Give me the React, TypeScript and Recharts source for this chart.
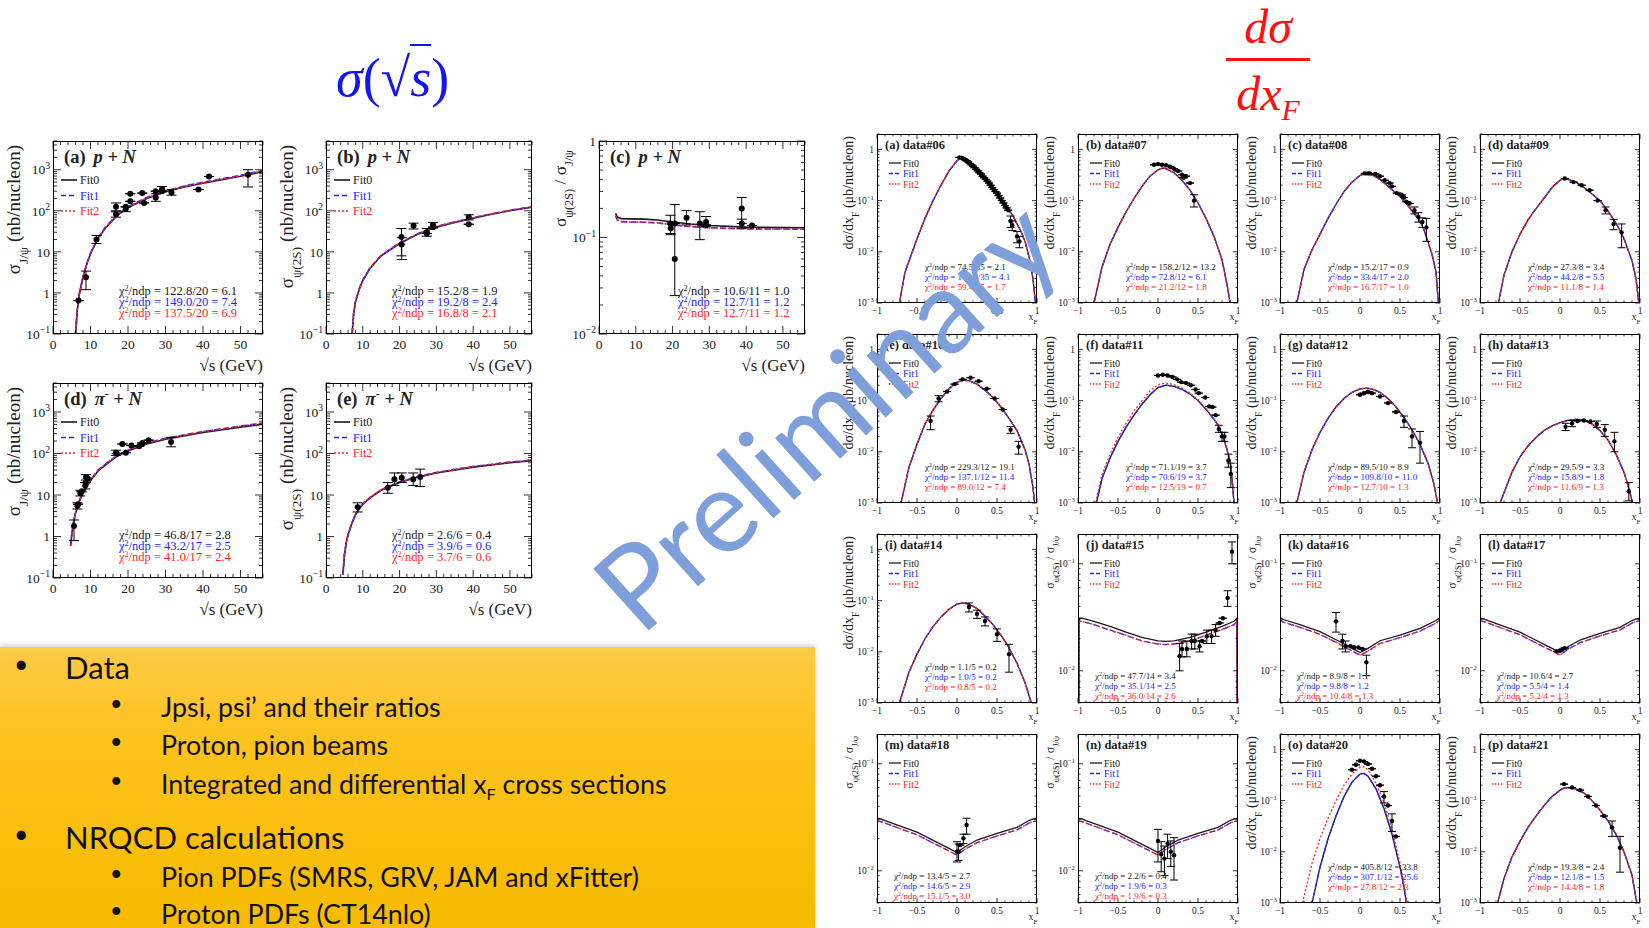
import React from "react";
import { ComposedChart, Line, Scatter, ErrorBar, XAxis, YAxis } from "recharts";

const SERIF = "'Liberation Serif', 'Times New Roman', serif";
const SANS = "Lato, 'Open Sans', sans-serif";
const FIT_COLORS = ["#1a1a1a", "#2424ff", "#ff2424"];
const FIT_DASH = [undefined, "6 3", "2 2"];

type Pair = number[];
type Pt = number[]; // x, y, optional lower and upper bound

// ---------- sigma(sqrt s) panels ----------
const A_FIT0: Pair[] = [[6.0,0.1],[6.5,0.4],[7,0.9],[8,2.4],[9,5],[10,9],[12,21],[14,38],[17,75],[20,120],[25,200],[30,290],[35,380],[40,470],[45,570],[50,690],[56,900]];
const A_FIT1: Pair[] = [[6.0,0.1],[6.5,0.42],[7,0.95],[8,2.5],[9,5.2],[10,9.4],[12,22],[14,40],[17,79],[20,126],[25,210],[30,305],[35,400],[40,495],[45,600],[50,730],[56,960]];
const A_FIT2: Pair[] = [[6.0,0.1],[6.5,0.41],[7,0.93],[8,2.45],[9,5.1],[10,9.2],[12,21.5],[14,39],[17,77],[20,123],[25,205],[30,300],[35,392],[40,485],[45,590],[50,715],[56,940]];
const A_PTS: Pt[] = [[6.8,0.65],[8.8,2.4,1.2,3.4],[11.6,20,16,25],[16.8,125,100,155],[16.8,82,70,95],[19.4,110,95,125],[19.4,125],[20.6,170],[20.6,260],[23.8,270],[24.3,155],[27.4,300],[27.4,210,170,260],[29.1,340,290,390],[29.1,300],[31.6,280,240,330],[38.8,330],[41.6,680],[52,750,380,1000]];

const B_FIT0: Pair[] = [[7.1,0.1],[7.5,0.3],[8,0.6],[9,1.2],[10,2.0],[12,4],[15,8],[20,16],[25,27],[30,40],[35,52],[40,66],[45,82],[50,100],[56,122]];
const B_FIT1: Pair[] = [[7.1,0.1],[7.5,0.31],[8,0.62],[9,1.24],[10,2.06],[12,4.1],[15,8.2],[20,16.5],[25,27.8],[30,41],[35,53.5],[40,68],[45,84],[50,103],[56,125]];
const B_PTS: Pt[] = [[20.5,23,8,37],[20.6,15,6.5,22],[23.8,43,36,50],[27.4,30,24,37],[27.4,28],[29.1,45,38,52],[29.1,40],[38.8,70,60,80],[38.8,47]];

const C_FIT0: Pair[] = [[4.5,0.178],[5,0.163],[6,0.157],[8,0.156],[12,0.155],[16,0.152],[20,0.145],[25,0.138],[30,0.133],[40,0.128],[56,0.126]];
const C_FIT1: Pair[] = [[4.5,0.168],[5,0.152],[6,0.146],[8,0.145],[12,0.144],[16,0.142],[20,0.135],[25,0.13],[30,0.126],[40,0.123],[56,0.122]];
const C_PTS: Pt[] = [[19.4,0.14,0.11,0.17],[19.5,0.125,0.107,0.145],[20.6,0.14],[20.6,0.06,0.025,0.22],[23.8,0.16,0.135,0.19],[27.4,0.14,0.095,0.185],[29.1,0.145,0.13,0.165],[29.1,0.135],[38.8,0.2,0.14,0.26],[38.8,0.14,0.125,0.155],[41.6,0.133]];

const D_FIT0: Pair[] = [[4.7,0.6],[5,1.1],[5.5,2.2],[6,3.6],[7,7],[8,11],[9,16],[10,22],[12,38],[15,62],[17,85],[20,115],[25,170],[30,220],[40,320],[50,430],[56,510]];
const D_FIT1: Pair[] = [[4.7,0.6],[5,1.15],[5.5,2.3],[6,3.8],[7,7.3],[8,11.5],[9,16.8],[10,23],[12,40],[15,65],[17,89],[20,120],[25,178],[30,232],[40,338],[50,455],[56,545]];
const D_PTS: Pt[] = [[5.6,1.8,0.8,2.5],[6.5,5.5,4.6,6.5],[6.7,6],[7.3,11,9.5,13],[7.6,12],[8.6,17,14,20],[8.7,20],[8.8,27,23,31],[9.3,25],[16.8,105,90,120],[17.0,100],[18.5,170],[19.4,105],[20.9,155],[23.0,150],[23.8,180],[25.5,210],[31.5,190,145,245]];

const E_FIT0: Pair[] = [[4.6,0.12],[5,0.35],[5.5,0.7],[6,1.1],[7,2.0],[8,3.3],[9,4.6],[10,6],[12,8.5],[15,13],[20,20],[25,27],[30,34],[40,47],[50,60],[56,67]];
const E_FIT1: Pair[] = [[4.6,0.12],[5,0.36],[5.5,0.72],[6,1.13],[7,2.06],[8,3.4],[9,4.75],[10,6.2],[12,8.8],[15,13.4],[20,20.6],[25,27.8],[30,35],[40,48.5],[50,62],[56,69]];
const E_PTS: Pt[] = [[8.6,5.1,3.9,6.5],[16.8,15,11,20],[18.6,24,17,34],[20.6,26,20,34],[23.7,24,17,34],[25.6,27,16,42]];

// ---------- dsigma/dxF panels ----------
const R06_FIT0: Pair[] = [[-0.74,0.0006],[-0.72,0.001],[-0.65,0.004],[-0.5,0.018],[-0.4,0.045],[-0.3,0.1],[-0.2,0.2],[-0.1,0.38],[0,0.6],[0.05,0.68],[0.1,0.65],[0.2,0.48],[0.3,0.33],[0.4,0.22],[0.5,0.14],[0.6,0.085],[0.7,0.05],[0.8,0.025],[0.85,0.016],[0.9,0.008],[0.95,0.003],[0.98,0.001],[1,0.0002]];
const R06_PTS: Pt[] = [[0.03,0.7],[0.06,0.68],[0.08,0.66],[0.1,0.63],[0.12,0.6],[0.14,0.57],[0.16,0.53],[0.18,0.5],[0.2,0.47],[0.22,0.44],[0.24,0.41],[0.26,0.38],[0.28,0.35],[0.3,0.33],[0.32,0.3],[0.34,0.28],[0.36,0.26],[0.38,0.24],[0.4,0.22],[0.42,0.2],[0.44,0.18],[0.46,0.165],[0.48,0.15],[0.5,0.14],[0.52,0.125],[0.54,0.112],[0.56,0.1],[0.58,0.09],[0.6,0.08],[0.62,0.072],[0.64,0.065],[0.67,0.04,0.03,0.05],[0.69,0.033,0.026,0.04],[0.75,0.02,0.015,0.025],[0.78,0.016,0.012,0.02]];

const R07_FIT0: Pair[] = [[-0.83,0.0005],[-0.8,0.001],[-0.7,0.005],[-0.6,0.014],[-0.5,0.03],[-0.4,0.06],[-0.3,0.11],[-0.2,0.19],[-0.1,0.3],[0,0.4],[0.05,0.43],[0.1,0.42],[0.2,0.35],[0.3,0.25],[0.4,0.16],[0.5,0.09],[0.6,0.045],[0.7,0.02],[0.8,0.007],[0.87,0.002],[0.9,0.001],[0.93,0.0002]];
const R07_PTS: Pt[] = [[-0.05,0.5],[0,0.52],[0.05,0.5],[0.1,0.49],[0.15,0.46],[0.2,0.42],[0.25,0.38],[0.3,0.32],[0.32,0.28],[0.35,0.3],[0.4,0.22],[0.45,0.1,0.075,0.13]];

const R08_FIT0: Pair[] = [[-0.8,0.0006],[-0.79,0.001],[-0.7,0.0045],[-0.6,0.011],[-0.5,0.022],[-0.4,0.045],[-0.3,0.085],[-0.2,0.15],[-0.1,0.23],[0,0.31],[0.07,0.34],[0.15,0.32],[0.25,0.26],[0.35,0.19],[0.5,0.12],[0.6,0.08],[0.7,0.05],[0.75,0.04],[0.8,0.027],[0.9,0.009],[0.95,0.004],[0.98,0.001],[1,0.0003]];
const R08_PTS: Pt[] = [[0.06,0.34],[0.1,0.34],[0.125,0.34],[0.19,0.33],[0.25,0.3],[0.31,0.25],[0.37,0.22],[0.4,0.19],[0.46,0.14],[0.52,0.13],[0.55,0.115],[0.58,0.095],[0.62,0.088],[0.68,0.065,0.055,0.075],[0.73,0.048,0.038,0.058],[0.78,0.038,0.03,0.046],[0.83,0.03,0.016,0.045]];

const R09_FIT0: Pair[] = [[-0.79,0.0006],[-0.77,0.001],[-0.7,0.0035],[-0.6,0.01],[-0.5,0.022],[-0.4,0.042],[-0.3,0.07],[-0.25,0.087],[-0.1,0.18],[0,0.25],[0.05,0.27],[0.1,0.26],[0.2,0.23],[0.3,0.18],[0.4,0.135],[0.5,0.1],[0.6,0.063],[0.7,0.036],[0.75,0.026],[0.8,0.018],[0.9,0.0067],[0.95,0.003],[0.985,0.001],[1,0.0004]];
const R09_PTS: Pt[] = [[0.06,0.27],[0.17,0.23],[0.27,0.2],[0.37,0.16],[0.47,0.1],[0.57,0.065,0.055,0.075],[0.67,0.035,0.027,0.043],[0.77,0.024,0.012,0.035]];

const R10_FIT0: Pair[] = [[-0.72,0.0006],[-0.7,0.001],[-0.6,0.005],[-0.5,0.014],[-0.4,0.035],[-0.3,0.065],[-0.2,0.11],[-0.1,0.17],[0,0.23],[0.08,0.25],[0.15,0.245],[0.25,0.21],[0.35,0.16],[0.45,0.115],[0.55,0.075],[0.65,0.045],[0.75,0.026],[0.85,0.011],[0.9,0.0058],[0.95,0.002],[0.97,0.001],[0.99,0.0003]];
const R10_PTS: Pt[] = [[-0.33,0.04,0.027,0.05],[-0.23,0.11,0.095,0.125],[-0.125,0.15],[-0.03,0.21],[0.07,0.26],[0.17,0.28],[0.27,0.24],[0.37,0.17],[0.47,0.11],[0.57,0.067],[0.67,0.027,0.023,0.031],[0.77,0.0126,0.009,0.016]];

const R11_FIT0: Pair[] = [[-0.79,0.0006],[-0.77,0.001],[-0.7,0.003],[-0.6,0.0075],[-0.5,0.016],[-0.4,0.03],[-0.3,0.052],[-0.2,0.085],[-0.1,0.13],[0,0.18],[0.1,0.2],[0.2,0.19],[0.3,0.165],[0.4,0.135],[0.5,0.1],[0.6,0.068],[0.7,0.043],[0.75,0.033],[0.8,0.022],[0.85,0.013],[0.9,0.0067],[0.93,0.0025],[0.95,0.001],[0.97,0.0003]];
const R11_FIT2: Pair[] = [[-0.8,0.0006],[-0.78,0.001],[-0.7,0.0036],[-0.6,0.009],[-0.5,0.019],[-0.4,0.036],[-0.3,0.063],[-0.2,0.1],[-0.1,0.155],[0,0.205],[0.1,0.22],[0.2,0.205],[0.3,0.175],[0.4,0.14],[0.5,0.105],[0.6,0.07],[0.7,0.044],[0.75,0.034],[0.8,0.023],[0.85,0.013],[0.9,0.0067],[0.93,0.0025],[0.95,0.001],[0.97,0.0003]];
const R11_PTS: Pt[] = [[0.0,0.31],[0.06,0.32],[0.12,0.31],[0.18,0.29],[0.24,0.26],[0.29,0.23],[0.35,0.22],[0.41,0.2],[0.47,0.165],[0.51,0.14],[0.59,0.115],[0.64,0.077],[0.68,0.075],[0.72,0.052],[0.76,0.028,0.024,0.033],[0.8,0.02,0.016,0.024],[0.83,0.02,0.016,0.024],[0.88,0.0068,0.005,0.009],[0.91,0.0037,0.002,0.006]];

const R12_FIT0: Pair[] = [[-0.81,0.0006],[-0.79,0.001],[-0.7,0.004],[-0.6,0.011],[-0.5,0.024],[-0.4,0.045],[-0.3,0.075],[-0.2,0.11],[-0.1,0.145],[0,0.17],[0.08,0.175],[0.15,0.17],[0.25,0.145],[0.35,0.11],[0.45,0.075],[0.55,0.047],[0.65,0.027],[0.75,0.014],[0.85,0.006],[0.92,0.0025],[0.97,0.001],[0.99,0.0003]];
const R12_PTS: Pt[] = [[0,0.13],[0.05,0.14],[0.1,0.15],[0.15,0.14],[0.25,0.12],[0.35,0.09],[0.45,0.06],[0.55,0.04,0.03,0.05],[0.65,0.02,0.012,0.028],[0.75,0.015,0.006,0.025]];

const R13_FIT0: Pair[] = [[-0.77,0.0006],[-0.75,0.001],[-0.6,0.004],[-0.5,0.008],[-0.4,0.013],[-0.3,0.019],[-0.2,0.026],[-0.1,0.032],[0,0.037],[0.1,0.041],[0.2,0.043],[0.3,0.041],[0.4,0.035],[0.5,0.026],[0.6,0.017],[0.7,0.009],[0.8,0.004],[0.88,0.0015],[0.92,0.0008],[0.95,0.0003]];
const R13_PTS: Pt[] = [[0.07,0.031,0.026,0.036],[0.15,0.036,0.031,0.041],[0.22,0.04],[0.3,0.041],[0.38,0.039],[0.46,0.035,0.03,0.04],[0.56,0.027,0.02,0.034],[0.68,0.016,0.01,0.024],[0.86,0.0017,0.0011,0.0025]];

const R14_FIT0: Pair[] = [[-0.74,0.0006],[-0.72,0.001],[-0.6,0.004],[-0.5,0.009],[-0.4,0.018],[-0.3,0.031],[-0.2,0.048],[-0.1,0.068],[0,0.085],[0.07,0.09],[0.15,0.085],[0.25,0.07],[0.35,0.05],[0.45,0.034],[0.55,0.021],[0.65,0.012],[0.75,0.006],[0.85,0.0025],[0.93,0.001],[0.97,0.0004]];
const R14_PTS: Pt[] = [[0.15,0.075,0.06,0.09],[0.25,0.055,0.045,0.065],[0.35,0.04,0.032,0.048],[0.5,0.022,0.016,0.028],[0.65,0.009,0.004,0.014]];

// ---------- psi(2S)/J/psi ratio panels ----------
const R15_FIT0: Pair[] = [[-0.99,0.001],[-0.985,0.031],[-0.95,0.031],[-0.8,0.029],[-0.6,0.026],[-0.4,0.023],[-0.2,0.0205],[0,0.019],[0.1,0.0188],[0.2,0.019],[0.4,0.0205],[0.6,0.023],[0.8,0.026],[0.95,0.029],[0.985,0.031],[0.99,0.001]];
const R15_FIT1: Pair[] = [[-0.99,0.001],[-0.985,0.029],[-0.95,0.029],[-0.8,0.027],[-0.6,0.024],[-0.4,0.0215],[-0.2,0.019],[0,0.0178],[0.1,0.0176],[0.2,0.0178],[0.4,0.019],[0.6,0.0215],[0.8,0.0243],[0.95,0.027],[0.985,0.029],[0.99,0.001]];
const R15_PTS: Pt[] = [[0.27,0.0137,0.01,0.018],[0.3,0.016,0.0135,0.019],[0.36,0.016,0.0135,0.019],[0.42,0.019,0.016,0.022],[0.46,0.019,0.016,0.022],[0.52,0.017,0.015,0.019],[0.55,0.019],[0.61,0.021,0.018,0.024],[0.67,0.021,0.018,0.024],[0.72,0.024,0.021,0.027],[0.77,0.028],[0.81,0.031],[0.87,0.048,0.04,0.056],[0.925,0.13,0.1,0.16]];

const R16_FIT0: Pair[] = [[-1,0.0314],[-0.95,0.03],[-0.75,0.027],[-0.5,0.0232],[-0.25,0.0187],[-0.1,0.0162],[0,0.0148],[0.1,0.0162],[0.25,0.0191],[0.5,0.0216],[0.75,0.0249],[0.95,0.0295],[1,0.0314]];
const R16_FIT1: Pair[] = [[-1,0.0297],[-0.95,0.0284],[-0.75,0.0255],[-0.5,0.0219],[-0.25,0.0177],[-0.1,0.0153],[0,0.014],[0.1,0.0153],[0.25,0.018],[0.5,0.0204],[0.75,0.0235],[0.95,0.0279],[1,0.0297]];
const R16_PTS: Pt[] = [[-0.3,0.029,0.023,0.035],[-0.22,0.019,0.016,0.022],[-0.18,0.017,0.015,0.019],[-0.12,0.017],[-0.07,0.0165],[-0.02,0.0165],[0.03,0.016],[0.08,0.012,0.009,0.014]];

const V_FIT0: Pair[] = [[-1,0.031],[-0.95,0.0305],[-0.9,0.0295],[-0.5,0.023],[-0.1,0.0162],[0,0.0148],[0.1,0.0168],[0.25,0.0194],[0.5,0.0224],[0.75,0.0255],[0.9,0.0295],[0.95,0.0305],[1,0.031]];
const V_FIT1: Pair[] = [[-1,0.0293],[-0.95,0.0288],[-0.9,0.0279],[-0.5,0.0217],[-0.1,0.0153],[0,0.014],[0.1,0.0159],[0.25,0.0183],[0.5,0.0212],[0.75,0.0241],[0.9,0.0279],[0.95,0.0288],[1,0.0293]];
const R17_PTS: Pt[] = [[-0.04,0.0152],[0.0,0.0155],[0.03,0.0158],[0.06,0.0163]];
const R18_PTS: Pt[] = [[0,0.0151,0.0121,0.0187],[0.02,0.0151,0.0125,0.0178],[0.04,0.0174],[0.08,0.0201,0.018,0.022],[0.12,0.0268,0.022,0.031]];
const R19_PTS: Pt[] = [[0,0.019,0.0121,0.0244],[0.04,0.0143,0.0098,0.0187],[0.08,0.013,0.009,0.017],[0.12,0.018,0.013,0.022],[0.16,0.0151,0.011,0.019],[0.2,0.014,0.0082,0.0204]];

const R20_FIT0: Pair[] = [[-0.62,0.0006],[-0.6,0.001],[-0.5,0.005],[-0.4,0.018],[-0.3,0.05],[-0.2,0.12],[-0.1,0.23],[0,0.33],[0.05,0.34],[0.1,0.3],[0.2,0.17],[0.3,0.07],[0.4,0.022],[0.5,0.005],[0.55,0.002],[0.6,0.0006]];
const R20_FIT2: Pair[] = [[-0.76,0.0006],[-0.72,0.001],[-0.6,0.006],[-0.5,0.018],[-0.4,0.045],[-0.3,0.1],[-0.2,0.2],[-0.1,0.33],[0,0.45],[0.05,0.46],[0.1,0.4],[0.2,0.22],[0.3,0.09],[0.4,0.028],[0.5,0.006],[0.55,0.0025],[0.6,0.0007]];
const R20_PTS: Pt[] = [[-0.1,0.4],[-0.05,0.5],[0,0.6],[0.05,0.58],[0.1,0.52],[0.15,0.42],[0.2,0.3],[0.25,0.2],[0.3,0.12,0.09,0.15],[0.35,0.08],[0.4,0.04,0.025,0.055],[0.45,0.02]];

const R21_FIT0: Pair[] = [[-0.8,0.0006],[-0.78,0.001],[-0.7,0.003],[-0.6,0.008],[-0.5,0.016],[-0.4,0.03],[-0.3,0.05],[-0.2,0.08],[-0.1,0.12],[0,0.16],[0.05,0.175],[0.1,0.18],[0.2,0.17],[0.3,0.14],[0.4,0.1],[0.5,0.065],[0.6,0.04],[0.7,0.022],[0.8,0.01],[0.9,0.0035],[0.96,0.001],[0.98,0.0003]];
const R21_PTS: Pt[] = [[0.05,0.21],[0.15,0.18],[0.25,0.16],[0.35,0.12],[0.45,0.08],[0.55,0.05],[0.65,0.03,0.02,0.04],[0.75,0.012,0.004,0.02]];

const CHI: Record<string, string[]> = {
  a: ["122.8/20 = 6.1", "149.0/20 = 7.4", "137.5/20 = 6.9"],
  b: ["15.2/8 = 1.9", "19.2/8 = 2.4", "16.8/8 = 2.1"],
  c: ["10.6/11 = 1.0", "12.7/11 = 1.2", "12.7/11 = 1.2"],
  d: ["46.8/17 = 2.8", "43.2/17 = 2.5", "41.0/17 = 2.4"],
  e: ["2.6/6 = 0.4", "3.9/6 = 0.6", "3.7/6 = 0.6"],
  "06": ["74.5/35 = 2.1", "141.8/35 = 4.1", "59.4/35 = 1.7"],
  "07": ["158.2/12 = 13.2", "72.8/12 = 6.1", "21.2/12 = 1.8"],
  "08": ["15.2/17 = 0.9", "33.4/17 = 2.0", "16.7/17 = 1.0"],
  "09": ["27.3/8 = 3.4", "44.2/8 = 5.5", "11.1/8 = 1.4"],
  "10": ["229.3/12 = 19.1", "137.1/12 = 11.4", "89.0/12 = 7.4"],
  "11": ["71.1/19 = 3.7", "70.6/19 = 3.7", "12.5/19 = 0.7"],
  "12": ["89.5/10 = 8.9", "109.8/10 = 11.0", "12.7/10 = 1.3"],
  "13": ["29.5/9 = 3.3", "15.8/9 = 1.8", "11.6/9 = 1.3"],
  "14": ["1.1/5 = 0.2", "1.0/5 = 0.2", "0.8/5 = 0.2"],
  "15": ["47.7/14 = 3.4", "35.1/14 = 2.5", "36.0/14 = 2.6"],
  "16": ["8.9/8 = 1.1", "9.8/8 = 1.2", "10.4/8 = 1.3"],
  "17": ["10.6/4 = 2.7", "5.5/4 = 1.4", "5.2/4 = 1.3"],
  "18": ["13.4/5 = 2.7", "14.6/5 = 2.9", "15.1/5 = 3.0"],
  "19": ["2.2/6 = 0.4", "1.9/6 = 0.3", "1.9/6 = 0.3"],
  "20": ["405.8/12 = 33.8", "307.1/12 = 25.6", "27.8/12 = 2.3"],
  "21": ["19.3/8 = 2.4", "12.1/8 = 1.5", "14.4/8 = 1.8"],
};

type YKind = "jpsi" | "psi2s" | "ratio" | "dxf";
interface Spec {
  key: string;
  letter: string;
  head: string;
  L: number; T: number; W: number; H: number;
  wide: boolean;
  yKind: YKind;
  yDomain: number[];
  fits: Pair[][];
  pts: Pt[];
}

const RTS_DOMAIN = [0, 56];
const XS_DOMAIN = [0.001, 2];
const RATIO_DOMAIN = [0.005, 0.19];

const LEFT: Spec[] = [
  { key: "a", letter: "(a)", head: "p", L: 53, T: 141, W: 210, H: 193, wide: true, yKind: "jpsi", yDomain: [0.1, 5000], fits: [A_FIT0, A_FIT1, A_FIT2], pts: A_PTS },
  { key: "b", letter: "(b)", head: "p", L: 326, T: 141, W: 206, H: 193, wide: true, yKind: "psi2s", yDomain: [0.1, 5000], fits: [B_FIT0, B_FIT1, B_FIT1], pts: B_PTS },
  { key: "c", letter: "(c)", head: "p", L: 599, T: 141, W: 206, H: 193, wide: true, yKind: "ratio", yDomain: [0.01, 1], fits: [C_FIT0, C_FIT1, C_FIT1], pts: C_PTS },
  { key: "d", letter: "(d)", head: "pi", L: 53, T: 383, W: 210, H: 195, wide: true, yKind: "jpsi", yDomain: [0.1, 5000], fits: [D_FIT0, D_FIT1, D_FIT1], pts: D_PTS },
  { key: "e", letter: "(e)", head: "pi", L: 326, T: 383, W: 206, H: 195, wide: true, yKind: "psi2s", yDomain: [0.1, 5000], fits: [E_FIT0, E_FIT1, E_FIT1], pts: E_PTS },
];

const COLS = [877, 1078, 1280, 1480];
const ROWS = [134, 334, 534, 734];
const rp = (i: number, key: string, letter: string, ratio: boolean, fits: Pair[][], pts: Pt[]): Spec => ({
  key, letter, head: "data#" + key, L: COLS[i % 4], T: ROWS[Math.floor(i / 4)], W: 160, H: 169, wide: false,
  yKind: ratio ? "ratio" : "dxf", yDomain: ratio ? RATIO_DOMAIN : XS_DOMAIN, fits, pts,
});

const RIGHT: Spec[] = [
  rp(0, "06", "(a)", false, [R06_FIT0, R06_FIT0, R06_FIT0], R06_PTS),
  rp(1, "07", "(b)", false, [R07_FIT0, R07_FIT0, R07_FIT0], R07_PTS),
  rp(2, "08", "(c)", false, [R08_FIT0, R08_FIT0, R08_FIT0], R08_PTS),
  rp(3, "09", "(d)", false, [R09_FIT0, R09_FIT0, R09_FIT0], R09_PTS),
  rp(4, "10", "(e)", false, [R10_FIT0, R10_FIT0, R10_FIT0], R10_PTS),
  rp(5, "11", "(f)", false, [R11_FIT0, R11_FIT0, R11_FIT2], R11_PTS),
  rp(6, "12", "(g)", false, [R12_FIT0, R12_FIT0, R12_FIT0], R12_PTS),
  rp(7, "13", "(h)", false, [R13_FIT0, R13_FIT0, R13_FIT0], R13_PTS),
  rp(8, "14", "(i)", false, [R14_FIT0, R14_FIT0, R14_FIT0], R14_PTS),
  rp(9, "15", "(j)", true, [R15_FIT0, R15_FIT1, R15_FIT1], R15_PTS),
  rp(10, "16", "(k)", true, [R16_FIT0, R16_FIT1, R16_FIT1], R16_PTS),
  rp(11, "17", "(l)", true, [V_FIT0, V_FIT1, V_FIT1], R17_PTS),
  rp(12, "18", "(m)", true, [V_FIT0, V_FIT1, V_FIT1], R18_PTS),
  rp(13, "19", "(n)", true, [V_FIT0, V_FIT1, V_FIT1], R19_PTS),
  rp(14, "20", "(o)", false, [R20_FIT0, R20_FIT0, R20_FIT2], R20_PTS),
  rp(15, "21", "(p)", false, [R21_FIT0, R21_FIT0, R21_FIT0], R21_PTS),
];

// log ticks: decades are major, 2..9 are minor
function logTicks(dom: number[]) {
  const out: number[] = [];
  const e0 = Math.floor(Math.log10(dom[0]));
  const e1 = Math.ceil(Math.log10(dom[1]));
  for (let e = e0; e <= e1; e++) {
    for (let m = 1; m <= 9; m++) {
      const v = Number((m * Math.pow(10, e)).toPrecision(6));
      if (v >= dom[0] * 0.999 && v <= dom[1] * 1.001) out.push(v);
    }
  }
  return out;
}
const isDecade = (v: number) => Math.abs(Math.log10(v) - Math.round(Math.log10(v))) < 1e-6;

const RTS_TICKS = Array.from({ length: 29 }, (_, i) => i * 2);
const XF_TICKS = Array.from({ length: 21 }, (_, i) => Number((-1 + i * 0.1).toFixed(1)));

function DecadeLabel({ x, y, v, fs }: { x: number; y: number; v: number; fs: number }) {
  const e = Math.round(Math.log10(v));
  const common = { x, y: y + fs * 0.35, textAnchor: "end" as const, fontSize: fs, fontFamily: SERIF, fill: "#222" };
  if (e === 0) return <text {...common}>1</text>;
  if (e === 1) return <text {...common}>10</text>;
  return (
    <text {...common}>
      10<tspan dy={-fs * 0.42} fontSize={fs * 0.72}>{e < 0 ? "\u2212" + -e : String(e)}</tspan>
    </text>
  );
}

function Panel({ s }: { s: Spec }) {
  const LW = s.wide ? 50 : 34;
  const TM = 4;
  const RM = 4;
  const XH = s.wide ? 24 : 18;
  const x0 = LW, x1 = LW + s.W, y0 = TM, y1 = TM + s.H;
  const fs = s.wide ? 13.5 : 9.5;
  const big = s.wide ? 8 : 5;
  const yTicks = logTicks(s.yDomain);
  const xTicks = s.wide ? RTS_TICKS : XF_TICKS;
  const xDomain = s.wide ? RTS_DOMAIN : [-1, 1];

  const YTick = (t: any) => {
    const v = t.payload.value;
    const y = t.y;
    const major = isDecade(v);
    const len = major ? big : big / 2;
    return (
      <g>
        <line x1={x0} x2={x0 + len} y1={y} y2={y} stroke="#000" strokeWidth={0.8} />
        <line x1={x1} x2={x1 - len} y1={y} y2={y} stroke="#000" strokeWidth={0.8} />
        {major && <DecadeLabel x={x0 - 3} y={y} v={v} fs={fs} />}
      </g>
    );
  };
  const XTick = (t: any) => {
    const v = t.payload.value;
    const x = t.x;
    const major = s.wide ? v % 10 === 0 : Math.abs(v * 2 - Math.round(v * 2)) < 1e-6;
    const len = major ? big : big / 2;
    const label = v < 0 ? "\u2212" + String(-v) : String(v);
    return (
      <g>
        <line x1={x} x2={x} y1={y1} y2={y1 - len} stroke="#000" strokeWidth={0.8} />
        <line x1={x} x2={x} y1={y0} y2={y0 + len} stroke="#000" strokeWidth={0.8} />
        {major && (
          <text x={x} y={y1 + (s.wide ? 15 : 11)} textAnchor="middle" fontSize={fs} fontFamily={SERIF} fill="#222">
            {label}
          </text>
        )}
      </g>
    );
  };

  const pts = s.pts.map((p) => ({
    x: p[0],
    y: p[1],
    err: p.length > 2 ? [p[1] - p[2], p[3] - p[1]] : [0, 0],
  }));
  const r = s.wide ? 3 : 2.2;

  return (
    <div style={{ position: "absolute", left: s.L - LW, top: s.T - TM }}>
      <ComposedChart width={LW + s.W + RM} height={TM + s.H + XH} margin={{ top: TM, right: RM, bottom: 0, left: 0 }}>
        <XAxis dataKey="x" type="number" domain={xDomain} ticks={xTicks} interval={0} tick={XTick}
          tickLine={false} axisLine={false} tickSize={0} height={XH} allowDataOverflow />
        <YAxis dataKey="y" type="number" scale="log" domain={s.yDomain} ticks={yTicks} interval={0} tick={YTick}
          tickLine={false} axisLine={false} tickSize={0} width={LW} allowDataOverflow />
        {s.fits.map((f, i) => (
          <Line key={i} data={f.map((q) => ({ x: q[0], y: q[1] }))} dataKey="y" type="linear" dot={false}
            activeDot={false} stroke={FIT_COLORS[i]} strokeWidth={s.wide ? 1.6 : 1.3}
            strokeDasharray={FIT_DASH[i]} isAnimationActive={false} />
        ))}
        <Scatter data={pts} dataKey="y" isAnimationActive={false}
          shape={(p: any) => <circle cx={p.cx} cy={p.cy} r={r} fill="#000" />}>
          <ErrorBar dataKey="err" direction="y" width={s.wide ? 5 : 4} stroke="#000" strokeWidth={1} />
        </Scatter>
      </ComposedChart>
      <div style={{ position: "absolute", left: LW, top: TM, width: s.W, height: s.H, border: "1px solid #000", boxSizing: "border-box", pointerEvents: "none" }} />
    </div>
  );
}

function Sub({ children, fs }: { children: React.ReactNode; fs: number }) {
  return <tspan baselineShift="sub" fontSize={fs * 0.7}>{children}</tspan>;
}

function YLabel({ kind, x, y, fs }: { kind: YKind; x: number; y: number; fs: number }) {
  let body: React.ReactNode;
  if (kind === "jpsi") body = <>σ<Sub fs={fs}>J/ψ</Sub> (nb/nucleon)</>;
  else if (kind === "psi2s") body = <>σ<Sub fs={fs}>ψ(2S)</Sub> (nb/nucleon)</>;
  else if (kind === "ratio") body = <>σ<Sub fs={fs}>ψ(2S)</Sub> / σ<Sub fs={fs}>J/ψ</Sub></>;
  else body = <>dσ/dx<Sub fs={fs}>F</Sub> (μb/nucleon)</>;
  return (
    <text transform={`translate(${x},${y}) rotate(-90)`} textAnchor="end" fontSize={fs} fontFamily={SERIF} fill="#222">
      {body}
    </text>
  );
}

function Annot({ s }: { s: Spec }) {
  const { L, T, W, H } = s;
  const R = L + W, B = T + H;
  const chi = CHI[s.key];
  if (s.wide) {
    const rowY = [T + 39, T + 54.5, T + 70];
    const cx = s.key === "c" ? L + 79 : L + 66;
    const isRatio = s.yKind === "ratio";
    const yfs = isRatio ? 17.5 : 19;
    return (
      <g fontFamily={SERIF}>
        <text x={L + 11} y={T + 22} fontSize={18.5} fontWeight="bold" fill="#222">
          {s.letter}
          <tspan dx={8} fontStyle="italic">{s.head === "p" ? "p" : "π"}</tspan>
          {s.head === "pi" && <tspan baselineShift="super" fontSize={12}>-</tspan>}
          <tspan fontStyle="italic">{"  +  N"}</tspan>
        </text>
        {s.key !== "c" && ["Fit0", "Fit1", "Fit2"].map((n, i) => (
          <g key={n}>
            <line x1={L + 8} x2={L + 24} y1={rowY[i]} y2={rowY[i]} stroke={FIT_COLORS[i]} strokeWidth={1.6} strokeDasharray={i === 1 ? "5 3" : i === 2 ? "2 2" : undefined} />
            <text x={L + 27} y={rowY[i] + 4} fontSize={12} fill={FIT_COLORS[i]}>{n}</text>
          </g>
        ))}
        {chi.map((c, i) => (
          <text key={i} x={cx} y={B - 39 + i * 10.8} fontSize={12.5} fill={FIT_COLORS[i]}>
            χ<tspan baselineShift="super" fontSize={8}>2</tspan>/ndp = {c}
          </text>
        ))}
        <text x={R} y={B + 37} textAnchor="end" fontSize={17} fill="#222">√s (GeV)</text>
        <YLabel kind={s.yKind} x={L - 33} y={T + (isRatio ? 9 : 4)} fs={yfs} />
      </g>
    );
  }
  const rowY = [T + 29, T + 39.5, T + 50];
  const ratio = s.yKind === "ratio";
  const cx = ratio ? L + 17 : L + 48;
  const cy = ratio ? T + 145 : T + 136;
  return (
    <g fontFamily={SERIF}>
      <text x={L + 8} y={T + 15} fontSize={12.5} fontWeight="bold" fill="#222">{s.letter} {s.head}</text>
      {["Fit0", "Fit1", "Fit2"].map((n, i) => (
        <g key={n}>
          <line x1={L + 12} x2={L + 24} y1={rowY[i]} y2={rowY[i]} stroke={FIT_COLORS[i]} strokeWidth={1.3} strokeDasharray={i === 1 ? "4 2" : i === 2 ? "1.5 1.5" : undefined} />
          <text x={L + 26} y={rowY[i] + 3.5} fontSize={10} fill={FIT_COLORS[i]}>{n}</text>
        </g>
      ))}
      {chi.map((c, i) => (
        <text key={i} x={cx} y={cy + i * 10} fontSize={9} fill={FIT_COLORS[i]}>
          χ<tspan baselineShift="super" fontSize={6}>2</tspan>/ndp = {c}
        </text>
      ))}
      <text x={R - 4} y={B + 17} textAnchor="middle" fontSize={10} fill="#222">
        x<Sub fs={10}>F</Sub>
      </text>
      <YLabel kind={s.yKind} x={L - 24} y={T + 2} fs={ratio ? 12 : 14} />
    </g>
  );
}

const BULLETS = [
  { text: "Data", level: 0, y: 668 },
  { text: "Jpsi, psi\u2019 and their ratios", level: 1, y: 708 },
  { text: "Proton, pion beams", level: 1, y: 746 },
  { text: "Integrated and differential x", sub: "F", tail: " cross sections", level: 1, y: 785 },
  { text: "NRQCD calculations", level: 0, y: 838 },
  { text: "Pion PDFs (SMRS, GRV, JAM and xFitter)", level: 1, y: 878 },
  { text: "Proton PDFs (CT14nlo)", level: 1, y: 915 },
];

export default function App() {
  return (
    <div style={{ position: "absolute", left: 0, top: 0, width: 1649, height: 928, background: "#fff", overflow: "hidden", fontFamily: SERIF }}>
      {LEFT.map((s) => <Panel key={s.key} s={s} />)}
      {RIGHT.map((s) => <Panel key={s.key} s={s} />)}
      <svg width={1649} height={928} style={{ position: "absolute", left: 0, top: 0, pointerEvents: "none" }}>
        {LEFT.map((s) => <Annot key={s.key} s={s} />)}
        {RIGHT.map((s) => <Annot key={s.key} s={s} />)}
      </svg>

      {/* section titles */}
      <div style={{ position: "absolute", left: 336, top: 48, fontSize: 54, lineHeight: "60px", color: "#1414f0", fontFamily: SERIF, whiteSpace: "nowrap" }}>
        <i>σ</i>(√<i style={{ borderTop: "2px solid #1414f0", paddingTop: 2 }}>s</i>)
      </div>
      <div style={{ position: "absolute", left: 1222, top: 0, width: 92, color: "#ff1010", fontFamily: SERIF, fontStyle: "italic", fontSize: 48, textAlign: "center", lineHeight: "54px" }}>
        <div>dσ</div>
        <div style={{ height: 3, background: "#ff1010", margin: "4px 4px 6px" }} />
        <div>dx<sub style={{ fontSize: 30, verticalAlign: -10 }}>F</sub></div>
      </div>

      {/* summary box */}
      <div style={{ position: "absolute", left: 0, top: 647, width: 815, height: 281, background: "linear-gradient(to bottom, #ffca45 0%, #fdc21c 35%, #f7bb00 100%)", boxShadow: "0 -2px 5px rgba(0,0,0,0.18)" }}>
        {BULLETS.map((b, i) => {
          const fs = b.level === 0 ? 31 : 26.8;
          const bx = b.level === 0 ? 14 : 110;
          const tx = b.level === 0 ? 65 : 161;
          const top = b.y - 647 - fs * 0.62;
          return (
            <div key={i} style={{ position: "absolute", left: 0, top, fontFamily: SANS, fontSize: fs, lineHeight: 1.2, color: "#111", whiteSpace: "nowrap" }}>
              <span style={{ position: "absolute", left: bx, fontSize: fs * 0.8 }}>•</span>
              <span style={{ position: "absolute", left: tx }}>
                {b.text}
                {b.sub && <sub style={{ fontSize: fs * 0.6 }}>{b.sub}</sub>}
                {b.tail}
              </span>
            </div>
          );
        })}
      </div>

      <svg width={1649} height={928} style={{ position: "absolute", left: 0, top: 0, pointerEvents: "none" }}>
        <text x={824} y={413} textAnchor="middle" dominantBaseline="central" transform="rotate(-42 824 413)"
          fontFamily={SANS} fontSize={116} fill="#7f9fda">
          Preliminary
        </text>
      </svg>
    </div>
  );
}
